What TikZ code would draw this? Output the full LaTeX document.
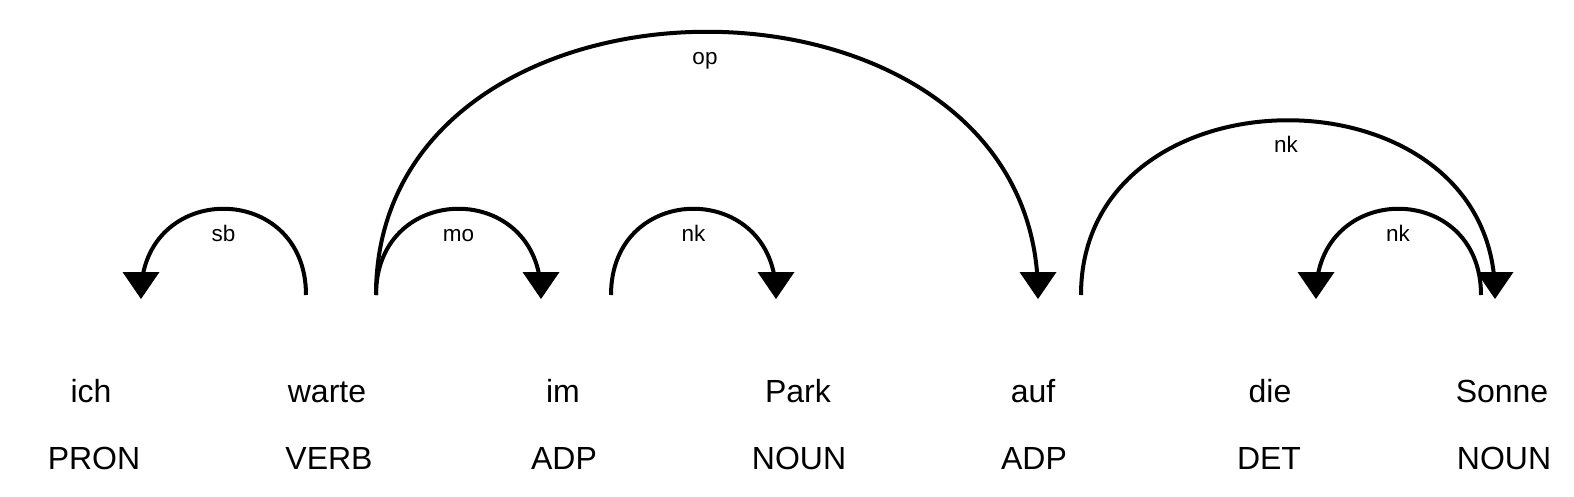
\documentclass[tikz,border=0pt]{standalone}
\usepackage{fontspec}
\setmainfont{Liberation Sans}
\newcommand\depHead[1]{\fill (#1) ++(0,4) -- ++(-18.5,-27) -- ++(37,0) -- cycle;}
\begin{document}
\begin{tikzpicture}[x=1pt,y=-1pt,
  word/.style={anchor=base,inner sep=0pt,font=\fontsize{32}{38}\selectfont},
  lab/.style={anchor=base,inner sep=0pt,font=\fontsize{22.5}{26}\selectfont},
  arc/.style={line width=4pt}]
\useasboundingbox (0,0) rectangle (1574,496);
% words and tags
\node[word] (w1) at (91,402) {ich};
\node[word] (w2) at (327,402) {warte};
\node[word] (w3) at (563,402) {im};
\node[word] (w4) at (798,402) {Park};
\node[word] (w5) at (1033,402) {auf};
\node[word] (w6) at (1270,402) {die};
\node[word] (w7) at (1502,402) {Sonne};
\node[word] (t1) at (94,469) {PRON};
\node[word] (t2) at (329,469) {VERB};
\node[word] (t3) at (564,469) {ADP};
\node[word] (t4) at (799,469) {NOUN};
\node[word] (t5) at (1034,469) {ADP};
\node[word] (t6) at (1269,469) {DET};
\node[word] (t7) at (1504,469) {NOUN};
% arc endpoints
\coordinate (sbS) at (306,295);  \coordinate (sbE) at (141,295);
\coordinate (moS) at (376,295);  \coordinate (moE) at (541,295);
\coordinate (nkaS) at (611,295); \coordinate (nkaE) at (776,295);
\coordinate (opS) at (376,295);  \coordinate (opE) at (1038,295);
\coordinate (nkbS) at (1081,295); \coordinate (nkbE) at (1495,295);
\coordinate (nkcS) at (1481,295); \coordinate (nkcE) at (1316,295);
% arcs
\draw[arc] (sbS) .. controls +(0,-115) and +(0,-115) .. (sbE);
\draw[arc] (moS) .. controls +(0,-115) and +(0,-115) .. (moE);
\draw[arc] (nkaS) .. controls +(0,-115) and +(0,-115) .. (nkaE);
\draw[arc] (opS) .. controls +(0,-351) and +(0,-351) .. (opE);
\draw[arc] (nkbS) .. controls +(0,-233) and +(0,-233) .. (nkbE);
\draw[arc] (nkcS) .. controls +(0,-115) and +(0,-115) .. (nkcE);
% arrowheads
\depHead{sbE}
\depHead{moE}
\depHead{nkaE}
\depHead{opE}
\depHead{nkbE}
\depHead{nkcE}
% labels
\node[lab] (lsb) at (223.5,241) {sb};
\node[lab] (lmo) at (458.5,241) {mo};
\node[lab] (lnka) at (693.5,241) {nk};
\node[lab] (lop) at (705,64) {op};
\node[lab] (lnkb) at (1286,152) {nk};
\node[lab] (lnkc) at (1398,241) {nk};
\end{tikzpicture}
\end{document}
